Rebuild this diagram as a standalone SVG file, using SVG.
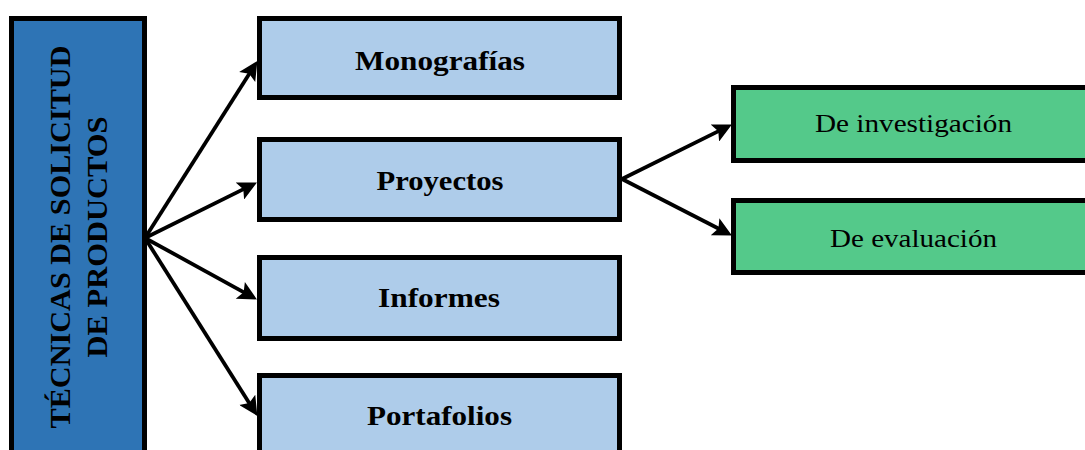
<svg xmlns="http://www.w3.org/2000/svg" width="1085" height="450" viewBox="0 0 1085 450">
<style>
.box{stroke:#000;stroke-width:5}
.main{fill:#2E74B5}
.blue{fill:#AECCEA}
.green{fill:#54C98A}
.b{font-family:"Liberation Serif","Times New Roman",serif;font-weight:bold;font-size:28px;fill:#000}
.r{font-family:"Liberation Serif","Times New Roman",serif;font-size:26px;fill:#000}
.v{font-family:"Liberation Serif","Times New Roman",serif;font-weight:bold;font-size:30px;fill:#000}
.c{stroke:#000;stroke-width:3.8;fill:none;marker-end:url(#ah)}
</style>
<defs>
<marker id="ah" viewBox="0 0 10 10" refX="6" refY="5" markerWidth="22" markerHeight="19" markerUnits="userSpaceOnUse" orient="auto">
<path d="M0,0 L10,5 L0,10 L2,5 z" fill="#000"/>
</marker>
</defs>
<g id="main">
<rect class="box main" x="11.5" y="18.5" width="133" height="440"/>
<text class="v" transform="translate(70,237) rotate(-90)" text-anchor="middle" textLength="383" lengthAdjust="spacingAndGlyphs">TÉCNICAS DE SOLICITUD</text>
<text class="v" transform="translate(107,237) rotate(-90)" text-anchor="middle" textLength="241" lengthAdjust="spacingAndGlyphs">DE PRODUCTOS</text>
</g>
<g id="monografias">
<rect class="box blue" x="259.5" y="18.5" width="360" height="79"/>
<text class="b" x="440" y="70" text-anchor="middle" textLength="170" lengthAdjust="spacingAndGlyphs">Monografías</text>
</g>
<g id="proyectos">
<rect class="box blue" x="259.5" y="139.5" width="360" height="80"/>
<text class="b" x="440" y="190" text-anchor="middle" textLength="127" lengthAdjust="spacingAndGlyphs">Proyectos</text>
</g>
<g id="informes">
<rect class="box blue" x="259.5" y="257.5" width="360" height="81"/>
<text class="b" x="439" y="307" text-anchor="middle" textLength="122" lengthAdjust="spacingAndGlyphs">Informes</text>
</g>
<g id="portafolios">
<rect class="box blue" x="259.5" y="375.5" width="360" height="100"/>
<text class="b" x="439.5" y="425" text-anchor="middle" textLength="145" lengthAdjust="spacingAndGlyphs">Portafolios</text>
</g>
<g id="investigacion">
<rect class="box green" x="733.5" y="87.5" width="362" height="73"/>
<text class="r" x="913.5" y="132" text-anchor="middle" textLength="197" lengthAdjust="spacingAndGlyphs">De investigación</text>
</g>
<g id="evaluacion">
<rect class="box green" x="733.5" y="200.5" width="362" height="72"/>
<text class="r" x="913.5" y="247" text-anchor="middle" textLength="167" lengthAdjust="spacingAndGlyphs">De evaluación</text>
</g>
<g id="connectors">
<line class="c" x1="145" y1="238" x2="253.3" y2="67.4"/>
<line class="c" x1="145" y1="238" x2="250.1" y2="185.9"/>
<line class="c" x1="145" y1="238" x2="250.3" y2="295.8"/>
<line class="c" x1="145" y1="238" x2="253.3" y2="409.5"/>
<line class="c" x1="622" y1="179" x2="725.1" y2="127.9"/>
<line class="c" x1="622" y1="179" x2="725.2" y2="232"/>
</g>
</svg>
